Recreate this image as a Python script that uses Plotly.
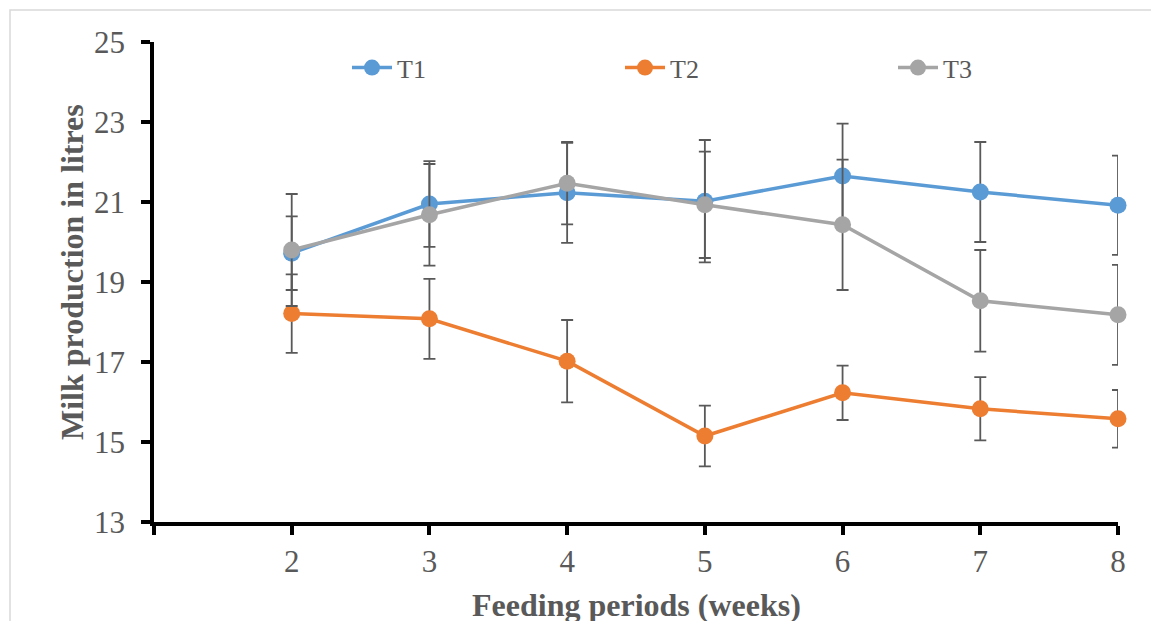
import plotly.graph_objects as go

weeks = [2, 3, 4, 5, 6, 7, 8]
tick_vals = [1, 2, 3, 4, 5, 6, 7, 8]
tick_text = ["", "2", "3", "4", "5", "6", "7", "8"]

t1_mean = [19.72, 20.95, 21.23, 21.02, 21.65, 21.25, 20.92]
t1_err = [0.92, 1.07, 1.25, 1.53, 1.31, 1.25, 1.24]
t2_mean = [18.21, 18.08, 17.02, 15.15, 16.23, 15.83, 15.58]
t2_err = [0.98, 1.00, 1.03, 0.76, 0.68, 0.79, 0.72]
t3_mean = [19.80, 20.68, 21.47, 20.93, 20.43, 18.53, 18.18]
t3_err = [1.40, 1.27, 1.03, 1.33, 1.63, 1.27, 1.25]

series = [
    ("T1", t1_mean, t1_err, "#5B9BD5", "legend"),
    ("T2", t2_mean, t2_err, "#ED7D31", "legend2"),
    ("T3", t3_mean, t3_err, "#A5A5A5", "legend3"),
]

FONT = "Liberation Serif"
TXT = "#595959"

# page body has an 8px default margin; compensate so the plot lands where the reference has it
OFF = 8
W, H = 1159, 621
PX0, PY0, PW, PH = 154, 42, 964, 480  # plot area in screenshot pixels
L = PX0 - OFF
T = PY0 - OFF
R = W - L - PW
B = H - T - PH


def px(sx):
    return (sx - PX0) / PW


def py(sy):
    return 1 - (sy - PY0) / PH


fig = go.Figure()
for name, mean, err, col, leg in series:
    fig.add_trace(go.Scatter(
        x=weeks, y=mean, name=name, mode="lines+markers",
        line=dict(color=col, width=3.5),
        marker=dict(color=col, size=17),
        error_y=dict(type="data", array=err, visible=True,
                     color="#595959", thickness=1.8, width=6),
        legend=leg, cliponaxis=False,
    ))

legend_markers = [369, 642, 915]


def leg(mx):
    return dict(
        orientation="h", x=px(mx - 22), y=py(67.7),
        xanchor="left", yanchor="middle",
        itemwidth=40,
        font=dict(family=FONT, size=26, color=TXT),
        bgcolor="rgba(0,0,0,0)",
    )


fig.update_layout(
    width=W, height=H,
    margin=dict(l=L, r=R, t=T, b=B),
    paper_bgcolor="white", plot_bgcolor="white",
    font=dict(family=FONT, color=TXT),
    showlegend=True,
    legend=leg(legend_markers[0]),
    legend2=leg(legend_markers[1]),
    legend3=leg(legend_markers[2]),
    xaxis=dict(
        range=[1, 8], tickvals=tick_vals, ticktext=tick_text,
        showline=True, linecolor="black", linewidth=3.5,
        ticks="outside", ticklen=9, tickwidth=3.5, tickcolor="black",
        showgrid=False, zeroline=False,
        tickfont=dict(family=FONT, size=31, color=TXT),
        ticklabelstandoff=0,
    ),
    yaxis=dict(
        range=[13, 25], dtick=2, tick0=13,
        showline=True, linecolor="black", linewidth=3.5,
        ticks="outside", ticklen=9, tickwidth=3.5, tickcolor="black",
        showgrid=False, zeroline=False,
        tickfont=dict(family=FONT, size=31, color=TXT),
        ticklabelstandoff=10,
    ),
    annotations=[
        dict(text="<b>Feeding periods (weeks)</b>", xref="paper", yref="paper",
             x=0.5, y=py(605), xanchor="center", yanchor="middle",
             showarrow=False, font=dict(family=FONT, size=32, color=TXT)),
        dict(text="<b>Milk production in litres</b>", xref="paper", yref="paper",
             x=px(72), y=py(272),
             xanchor="center", yanchor="middle", textangle=-90,
             showarrow=False, font=dict(family=FONT, size=32, color=TXT)),
    ],
    shapes=[
        dict(type="rect", xref="paper", yref="paper",
             x0=px(10), x1=1.2, y0=-0.4, y1=py(10),
             line=dict(color="#D9D9D9", width=1.5), fillcolor="rgba(0,0,0,0)",
             layer="below"),
    ],
)

fig.write_html("out.html")
